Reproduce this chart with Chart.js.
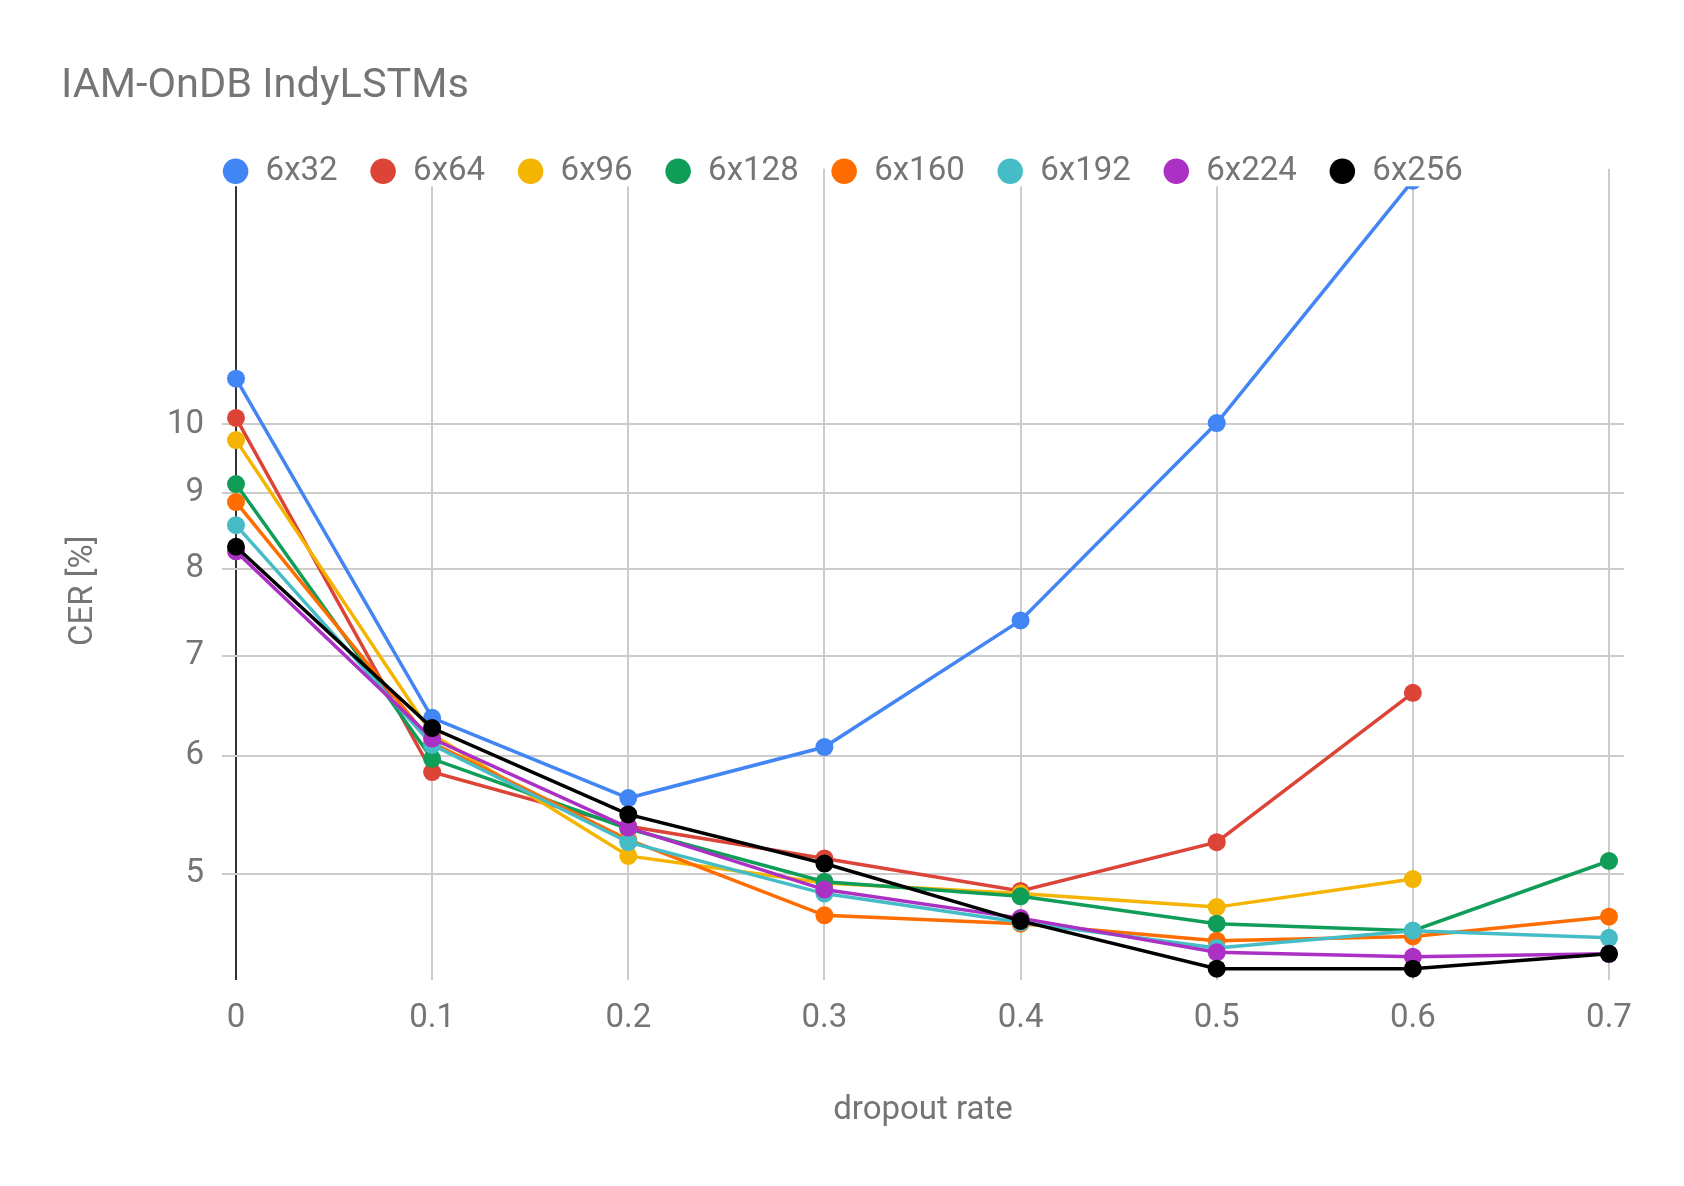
<!DOCTYPE html>
<html>
<head>
<meta charset="utf-8">
<script src="https://cdn.jsdelivr.net/npm/chart.js@4.4.0/dist/chart.umd.min.js"></script>
<style>
  html, body { margin: 0; padding: 0; background: #fff; }
</style>
</head>
<body>
<canvas id="cer-chart" width="1684" height="1186"></canvas>
<script>
// x values (dropout rate) and y tick labels
const dropoutRates = [0, 0.1, 0.2, 0.3, 0.4, 0.5, 0.6, 0.7];
const cerTicks = [5, 6, 7, 8, 9, 10];

// CER [%] per network size (null = no run)
const seriesNames = ["6x32", "6x64", "6x96", "6x128", "6x160", "6x192", "6x224", "6x256"];
const cer6x32  = [10.73, 6.36, 5.62, 6.08, 7.39, 10.02, 14.56, null];
const cer6x64  = [10.1, 5.85, 5.38, 5.12, 4.87, 5.25, 6.61, null];
const cer6x96  = [9.76, 6.2, 5.14, 4.93, 4.85, 4.75, 4.96, null];
const cer6x128 = [9.12, 5.97, 5.36, 4.94, 4.83, 4.63, 4.58, 5.10];
const cer6x160 = [8.87, 6.12, 5.27, 4.69, 4.63, 4.51, 4.54, 4.68];
const cer6x192 = [8.56, 6.1, 5.25, 4.85, 4.64, 4.46, 4.58, 4.53];
const cer6x224 = [8.22, 6.16, 5.37, 4.88, 4.67, 4.43, 4.40, 4.42];
const cer6x256 = [8.28, 6.26, 5.48, 5.08, 4.65, 4.32, 4.32, 4.42];

const allSeries = [cer6x32, cer6x64, cer6x96, cer6x128, cer6x160, cer6x192, cer6x224, cer6x256];
const colors = ["#4285f4", "#db4437", "#f4b400", "#0f9d58", "#ff6d00", "#46bdc6", "#ab30c4", "#000000"];

const grey = "#757575";
const font = { family: "Roboto", size: 33 };

// legend sits on top of the plot area, like the original:
// little layout height, no clipping, drawn over the lines with a white patch behind each item
const legendOverlap = {
  id: "legendOverlap",
  beforeInit(chart) {
    const legend = chart.legend;
    const fit = legend.fit;
    legend.fit = function () {
      fit.call(this);
      this.height = 46;
    };
    const draw = legend.draw;
    legend.draw = function () {
      const ctx = this.ctx;
      ctx.save();
      ctx.fillStyle = "#ffffff";
      (this.legendHitBoxes || []).forEach(b => {
        const cy = b.top + b.height / 2;
        ctx.fillRect(b.left - 2, cy - 15, b.width + 4, 30);
      });
      ctx.restore();
      this.bottom += 60;
      this.height += 60;
      draw.call(this);
      this.bottom -= 60;
      this.height -= 60;
    };
    legend._layers = function () {
      return [{ z: 1, draw: (area) => legend.draw(area) }];
    };
  }
};

new Chart(document.getElementById("cer-chart"), {
  type: "line",
  data: {
    datasets: allSeries.map((vals, i) => ({
      label: seriesNames[i],
      data: dropoutRates.map((x, j) => ({ x: x, y: vals[j] })),
      borderColor: colors[i],
      backgroundColor: colors[i],
      pointBackgroundColor: colors[i],
      pointBorderColor: colors[i],
      pointBorderWidth: 0,
      pointRadius: 9,
      borderWidth: 3.5,
      order: allSeries.length - i,
      spanGaps: false
    }))
  },
  plugins: [legendOverlap],
  options: {
    responsive: false,
    animation: false,
    layout: { padding: { left: 61, right: 60, top: 0, bottom: 0 } },
    plugins: {
      title: {
        display: true,
        text: "IAM-OnDB IndyLSTMs",
        align: "start",
        color: grey,
        font: { family: "Roboto", size: 41.5, weight: "normal" },
        padding: { top: 62, bottom: 11 }
      },
      legend: {
        position: "top",
        labels: {
          usePointStyle: true,
          pointStyle: "circle",
          boxWidth: 27,
          boxHeight: 18,
          padding: 32,
          color: grey,
          font: font,
          sort: (a, b) => a.datasetIndex - b.datasetIndex
        }
      },
      tooltip: { enabled: false }
    },
    scales: {
      x: {
        type: "linear",
        min: -0.00714,
        max: 0.70765,
        afterBuildTicks: (scale) => { scale.ticks = dropoutRates.map(v => ({ value: v })); },
        afterFit: (scale) => { scale.height = 206; },
        border: { display: false },
        grid: {
          drawTicks: false,
          color: (ctx) => (ctx.tick && ctx.tick.value === 0 ? "#333333" : "#cccccc"),
          lineWidth: 2
        },
        ticks: {
          autoSkip: false,
          maxRotation: 0,
          padding: 19,
          color: grey,
          font: font,
          callback: (v) => String(v)
        },
        title: {
          display: true,
          text: "dropout rate",
          color: grey,
          font: font,
          padding: { top: 0, bottom: 55 }
        }
      },
      y: {
        type: "logarithmic",
        min: 4.245,
        max: 14.83,
        afterBuildTicks: (scale) => { scale.ticks = cerTicks.map(v => ({ value: v })); },
        afterFit: (scale) => { scale.width = 161; },
        border: { display: false },
        grid: { drawTicks: false, color: "#cccccc", lineWidth: 2 },
        ticks: {
          autoSkip: false,
          padding: 18,
          color: grey,
          font: font,
          callback: (v) => String(v)
        },
        title: {
          display: true,
          text: "CER [%]    ",
          color: grey,
          font: font,
          padding: { top: 3, bottom: 0 }
        }
      }
    }
  }
});
</script>
</body>
</html>
